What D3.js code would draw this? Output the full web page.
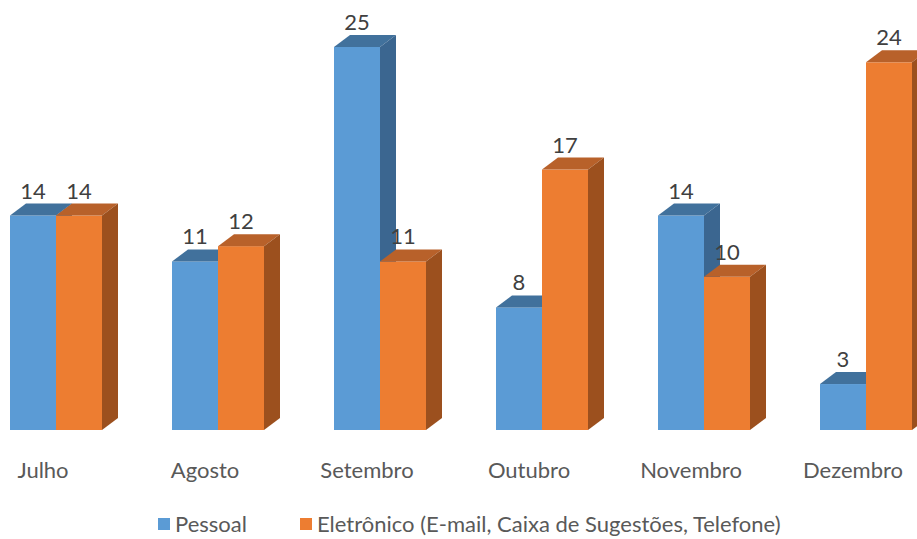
<!DOCTYPE html>
<html>
<head>
<meta charset="utf-8">
<script src="https://cdnjs.cloudflare.com/ajax/libs/d3/7.8.5/d3.min.js"></script>
<style>
  body { margin: 0; background: #fff; }
  text { font-family: Lato, "Open Sans", sans-serif; }
</style>
</head>
<body>
<script>
// data
var months = ["Julho", "Agosto", "Setembro", "Outubro", "Novembro", "Dezembro"];
var seriesNames = ["Pessoal", "Eletrônico (E-mail, Caixa de Sugestões, Telefone)"];
var pessoal = [14, 11, 25, 8, 14, 3];
var eletronico = [14, 12, 11, 17, 10, 24];

var width = 917, height = 539;
var depthX = 16, depthY = 12;

// colours: front, top, side
var palette = [
    {front: "#5b9bd5", top: "#41719c", side: "#3b6690"},
    {front: "#ed7d31", top: "#b8612a", side: "#9c501e"}
];

var svg = d3.select("body").append("svg")
    .attr("width", width)
    .attr("height", height);

var x = d3.scaleBand().domain(months).range([10, 10 + 162 * 6]);
var xs = d3.scaleBand().domain(seriesNames).range([0, 92]);
var y = d3.scaleLinear().domain([0, 25]).range([430, 47]);

var rows = months.map(function(m, i) {
    return {month: m, values: [pessoal[i], eletronico[i]]};
});

rows.forEach(function(r) {
    var g = svg.append("g");
    r.values.forEach(function(v, s) {
        var x0 = x(r.month) + xs(seriesNames[s]);
        var w = xs.bandwidth();
        var yt = y(v), yb = y(0);
        var c = palette[s];
        // front
        g.append("rect")
            .attr("x", x0).attr("y", yt)
            .attr("width", w).attr("height", yb - yt)
            .style("fill", c.front);
        // top
        g.append("path")
            .attr("d", "M" + x0 + "," + yt +
                " L" + (x0 + depthX) + "," + (yt - depthY) +
                " L" + (x0 + w + depthX) + "," + (yt - depthY) +
                " L" + (x0 + w) + "," + yt + "Z")
            .style("fill", c.top);
        // side
        g.append("path")
            .attr("d", "M" + (x0 + w) + "," + yt +
                " L" + (x0 + w + depthX) + "," + (yt - depthY) +
                " L" + (x0 + w + depthX) + "," + (yb - depthY) +
                " L" + (x0 + w) + "," + yb + "Z")
            .style("fill", c.side);
        // value label
        svg.append("text")
            .text(v)
            .attr("x", x0 + w / 2)
            .attr("y", yt - depthY - 5)
            .attr("text-anchor", "middle")
            .style("font-size", "22px")
            .style("fill", "#404040");
    });
});

// category labels
months.forEach(function(m) {
    svg.append("text")
        .text(m)
        .attr("x", x(m) + 33)
        .attr("y", 478)
        .attr("text-anchor", "middle")
        .style("font-size", "22px")
        .style("fill", "#595959");
});

// legend
var legendX = [158, 300];
seriesNames.forEach(function(n, s) {
    svg.append("rect")
        .attr("x", legendX[s]).attr("y", 518)
        .attr("width", 12).attr("height", 12)
        .style("fill", palette[s].front);
    svg.append("text")
        .text(n)
        .attr("x", legendX[s] + 17)
        .attr("y", 532)
        .style("font-size", "22px")
        .style("fill", "#595959");
});
</script>
</body>
</html>
